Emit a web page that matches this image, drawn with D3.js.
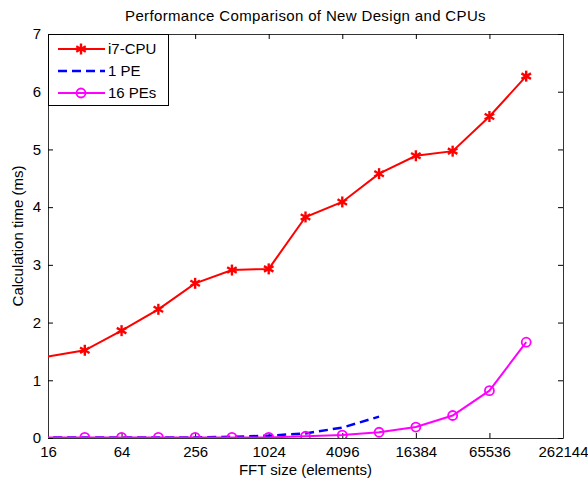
<!DOCTYPE html>
<html lang="en">
<head>
    <meta charset="UTF-8">
    <title>Performance Comparison</title>
    <script src="https://d3js.org/d3.v7.min.js"></script>
    <style>
        body { margin: 0; background: #fff; }
        text { font-family: "Liberation Sans", Arial, sans-serif; fill: #000; }
    </style>
</head>
<body>
    <script>
        // FFT sizes (8 lies just outside the axis and gets clipped)
        const sizes = [8, 16, 32, 64, 128, 256, 512, 1024, 2048, 4096, 8192, 16384, 32768, 65536, 131072];
        const cpu = [1.30, 1.41, 1.52, 1.86, 2.23, 2.68, 2.91, 2.93, 3.83, 4.09, 4.58, 4.89, 4.97, 5.57, 6.27];
        const onePE = [0.01, 0.01, 0.01, 0.01, 0.01, 0.01, 0.02, 0.04, 0.08, 0.18, 0.37];
        const sixteenPE = [0.01, 0.01, 0.01, 0.01, 0.01, 0.01, 0.01, 0.01, 0.03, 0.05, 0.10, 0.19, 0.39, 0.82, 1.66];
        const xTicks = [16, 64, 256, 1024, 4096, 16384, 65536, 262144];
        const yTicks = [0, 1, 2, 3, 4, 5, 6, 7];

        const w = 588, h = 481;
        const margin = {left: 48, right: 25, top: 34, bottom: 43};

        const svg = d3.select("body").append("svg")
            .attr("width", w).attr("height", h);

        const x = d3.scaleLog().base(2)
            .domain([16, 262144])
            .range([margin.left, w - margin.right]);
        const y = d3.scaleLinear()
            .domain([0, 7])
            .range([h - margin.bottom, margin.top]);

        svg.append("clipPath").attr("id", "clip")
            .append("rect")
            .attr("x", margin.left).attr("y", margin.top - 10)
            .attr("width", w - margin.left - margin.right)
            .attr("height", h - margin.top - margin.bottom + 10);

        // axes, ticks pointing inward
        svg.append("g")
            .attr("transform", "translate(0," + y(0) + ")")
            .call(d3.axisBottom(x).tickValues(xTicks).tickFormat(d => d).tickSizeInner(-5).tickSizeOuter(0).tickPadding(8));
        svg.append("g")
            .attr("transform", "translate(0," + y(7) + ")")
            .call(d3.axisTop(x).tickValues(xTicks).tickFormat("").tickSizeInner(-5).tickSizeOuter(0));
        svg.append("g")
            .attr("transform", "translate(" + x(16) + ",0)")
            .call(d3.axisLeft(y).tickValues(yTicks).tickFormat(d3.format("d")).tickSizeInner(-5).tickSizeOuter(0).tickPadding(7));
        svg.append("g")
            .attr("transform", "translate(" + x(262144) + ",0)")
            .call(d3.axisRight(y).tickValues(yTicks).tickFormat("").tickSizeInner(-5).tickSizeOuter(0));

        svg.selectAll(".tick text").style("font-size", "15px").style("font-family", "Liberation Sans, Arial, sans-serif");
        svg.selectAll(".domain").attr("stroke", "#333");

        const line = d3.line()
            .x((d, i) => x(sizes[i]))
            .y(d => y(d));

        const plot = svg.append("g").attr("clip-path", "url(#clip)");

        plot.append("path").datum(onePE)
            .attr("fill", "none").attr("stroke", "#0000ff")
            .attr("stroke-width", 2.5).attr("stroke-dasharray", "9,5")
            .attr("d", line);

        plot.append("path").datum(sixteenPE)
            .attr("fill", "none").attr("stroke", "#ff00ff")
            .attr("stroke-width", 2)
            .attr("d", line);

        plot.append("path").datum(cpu)
            .attr("fill", "none").attr("stroke", "#ff0000")
            .attr("stroke-width", 2)
            .attr("d", line);

        function star(g, cx, cy, r, color) {
            const s = g.append("g").attr("transform", "translate(" + cx + "," + cy + ")")
                .attr("stroke", color).attr("stroke-width", 2.4);
            [0, 60, 120].forEach(a => {
                const rad = (a + 90) * Math.PI / 180;
                s.append("line")
                    .attr("x1", -r * Math.cos(rad)).attr("y1", -r * Math.sin(rad))
                    .attr("x2", r * Math.cos(rad)).attr("y2", r * Math.sin(rad));
            });
        }

        const inRange = i => sizes[i] > 16;
        sixteenPE.forEach((d, i) => {
            if (!inRange(i)) return;
            plot.append("circle")
                .attr("cx", x(sizes[i])).attr("cy", y(d)).attr("r", 4.5)
                .attr("fill", "none").attr("stroke", "#ff00ff").attr("stroke-width", 1.8);
        });
        cpu.forEach((d, i) => {
            if (!inRange(i)) return;
            star(plot, x(sizes[i]), y(d), 5.5, "#ff0000");
        });

        // title and labels
        svg.append("text")
            .attr("x", (margin.left + w - margin.right) / 2).attr("y", 21)
            .attr("text-anchor", "middle").style("font-size", "15px")
            .style("letter-spacing", "0.35px")
            .text("Performance Comparison of New Design and CPUs");
        svg.append("text")
            .attr("x", (margin.left + w - margin.right) / 2).attr("y", 475)
            .attr("text-anchor", "middle").style("font-size", "15px")
            .text("FFT size (elements)");
        svg.append("text")
            .attr("transform", "translate(23," + ((margin.top + h - margin.bottom) / 2) + ") rotate(-90)")
            .attr("text-anchor", "middle").style("font-size", "15px")
            .text("Calculation time (ms)");

        // legend
        const legend = svg.append("g");
        legend.append("rect")
            .attr("x", margin.left + 0.5).attr("y", margin.top + 0.5)
            .attr("width", 120).attr("height", 71)
            .attr("fill", "#fff").attr("stroke", "#000");
        const items = [
            {name: "i7-CPU", color: "#ff0000", dash: null, mark: "star"},
            {name: "1 PE", color: "#0000ff", dash: "9,5", mark: null},
            {name: "16 PEs", color: "#ff00ff", dash: null, mark: "circle"}
        ];
        items.forEach((it, i) => {
            const ly = margin.top + 15 + i * 22;
            legend.append("line")
                .attr("x1", 58).attr("x2", 105).attr("y1", ly).attr("y2", ly)
                .attr("stroke", it.color).attr("stroke-width", it.dash ? 2.5 : 2)
                .attr("stroke-dasharray", it.dash);
            if (it.mark === "star") star(legend, 81, ly, 5.5, it.color);
            if (it.mark === "circle") legend.append("circle")
                .attr("cx", 81).attr("cy", ly).attr("r", 4.5)
                .attr("fill", "none").attr("stroke", it.color).attr("stroke-width", 1.8);
            legend.append("text")
                .attr("x", 108).attr("y", ly + 5)
                .style("font-size", "15px")
                .text(it.name);
        });
    </script>
</body>
</html>
